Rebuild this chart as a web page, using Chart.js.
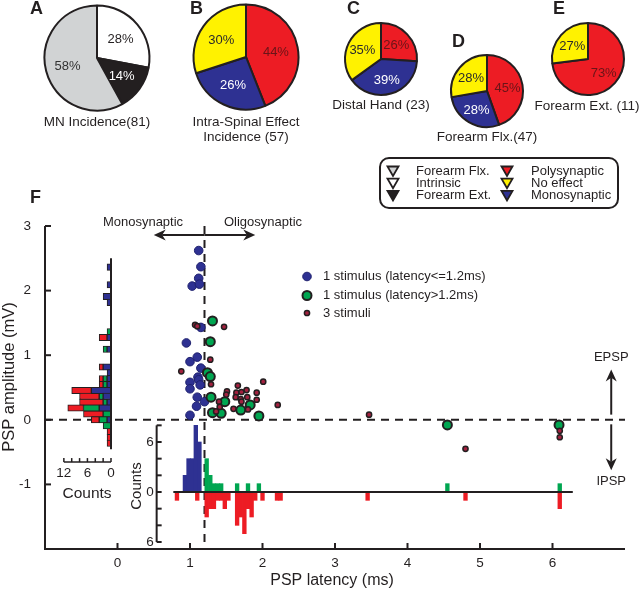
<!DOCTYPE html>
<html>
<head>
<meta charset="utf-8">
<script src="https://cdn.jsdelivr.net/npm/chart.js@4.4.1/dist/chart.umd.min.js"></script>
<style>
  html, body { margin: 0; padding: 0; background: #fff; }
  #wrap { position: relative; width: 640px; height: 593px; overflow: hidden; }
  #wrap canvas { position: absolute; }
</style>
</head>
<body>
<div id="wrap">
  <canvas id="mainChart" width="640" height="593" style="left:0;top:0"></canvas>
  <canvas id="ampHist" width="640" height="593" style="left:0;top:0"></canvas>
  <canvas id="pieA" width="112" height="112" style="left:41px;top:2px"></canvas>
  <canvas id="pieB" width="112" height="112" style="left:190px;top:1px"></canvas>
  <canvas id="pieC" width="80" height="80" style="left:341px;top:19px"></canvas>
  <canvas id="pieD" width="80" height="80" style="left:447px;top:51px"></canvas>
  <canvas id="pieE" width="80" height="80" style="left:548px;top:19px"></canvas>
</div>
<script>
const RED = "#ED1C24";
const BLUE = "#2E3192";
const GREEN = "#00A651";
const YELLOW = "#FFF200";
const GRAY = "#D1D3D4";
const BLACK = "#231F20";
const MAROON = "#A3213F";
const FONT = '"Liberation Sans", Arial, Helvetica, sans-serif';

// ---- pie data (percent) ----
const pieALabels = ["Intrinsic", "Forearm Ext.", "Forearm Flx."];
const pieAValues = [28, 14, 58];
const pieAColors = ["#ffffff", BLACK, GRAY];
const pieATextColors = [BLACK, "#ffffff", "#333333"];

const effectLabels = ["Polysynaptic", "Monosynaptic", "No effect"];
const effectColors = [RED, BLUE, YELLOW];
const effectTextColors = ["#6a1418", "#ffffff", "#2b2b2b"];
const pieBValues = [44, 26, 30];
const pieCValues = [26, 39, 35];
const pieDValues = [45, 28, 28];
const pieEValues = [73, 0, 27];

// ---- panel F scatter: [latency ms, amplitude mV] ----
const oneStimShort = [
  [1.12, 2.62], [1.15, 2.37], [1.12, 2.19], [1.03, 2.07], [1.13, 2.10],
  [1.15, 1.43], [0.95, 1.19], [1.10, 0.97], [1.00, 0.90], [1.15, 0.80],
  [1.11, 0.66], [1.00, 0.58], [1.12, 0.62], [1.14, 0.54], [1.00, 0.48],
  [1.10, 0.35], [1.20, 0.28], [1.09, 0.21], [1.00, 0.07]
];
const oneStimLong = [
  [1.31, 1.53], [1.28, 1.21], [1.24, 0.73], [1.28, 0.67], [1.29, 0.35],
  [1.48, 0.28], [1.31, 0.11], [1.43, 0.10], [1.70, 0.15], [1.83, 0.23],
  [1.95, 0.06], [4.55, -0.08], [6.09, -0.08]
];
const threeStim = [
  [1.07, 1.47], [1.10, 1.45], [1.47, 1.44], [1.28, 0.93], [0.88, 0.75],
  [1.29, 0.55], [1.66, 0.53], [2.01, 0.59], [1.51, 0.44], [1.50, 0.39],
  [1.64, 0.42], [1.78, 0.46], [1.71, 0.43], [1.92, 0.42], [1.63, 0.35],
  [1.70, 0.32], [1.79, 0.35], [1.71, 0.28], [1.92, 0.31], [1.40, 0.28],
  [1.41, 0.20], [1.60, 0.17], [1.80, 0.16], [1.36, 0.13], [2.21, 0.23],
  [3.47, 0.08], [4.80, -0.45], [6.10, -0.17], [6.10, -0.27]
];

// ---- latency histogram (inset), bin centres in ms ----
const monoLatency = [0.93, 0.98, 1.03, 1.08, 1.13];
const monoCounts = [2, 4, 4, 8, 6];
const lateLatency = [1.23, 1.28, 1.33, 1.38, 1.43, 1.65, 1.80, 1.95, 4.55, 6.10];
const lateCounts = [4, 2, 1, 1, 1, 1, 1, 1, 1, 1];
const multiLatency = [0.82, 1.10, 1.23, 1.28, 1.33, 1.38, 1.43, 1.48, 1.53, 1.65, 1.70,
  1.75, 1.80, 1.85, 1.90, 2.00, 2.20, 2.25, 3.45, 4.80, 6.10];
const multiCounts = [1, 1, 3, 2, 2, 1, 1, 2, 1, 4, 3, 5, 2, 3, 1, 1, 1, 1, 1, 1, 2]; // drawn downward

// ---- amplitude histogram (left), bin centres in mV ----
const ampBins = [2.55, 2.25, 2.05, 1.95, 1.45, 1.35, 1.15, 0.85, 0.75, 0.65, 0.55,
  0.45, 0.35, 0.25, 0.15, 0.05, -0.05, -0.15, -0.25, -0.35, -0.45];
const ampBlue = [1, 1, 2, 1, 0, 1, 1, 2, 1, 1, 1, 5, 2, 1, 3, 0, 1, 0, 0, 0, 0];
const ampGreen = [0, 0, 0, 0, 1, 0, 1, 0, 0, 1, 1, 0, 1, 1, 4, 2, 2, 2, 0, 0, 0];
const ampRed = [0, 0, 0, 0, 0, 2, 0, 1, 0, 1, 1, 5, 5, 6, 4, 5, 2, 0, 1, 1, 1];

// ---- ticks ----
const latencyTicks = [0, 1, 2, 3, 4, 5, 6];
const amplitudeTicks = [3, 2, 1, 0, -1];
const insetTicks = [8, 6, 4, 2, 0, -2, -4, -6];
const insetLabels = { 6: "6", 0: "0", "-6": "6" };
const ampCountTicks = [12, 10, 8, 6, 4, 2, 0];
const ampCountLabels = [12, 6, 0];

const toXY = (arr) => arr.map(([x, y]) => ({ x, y }));
const toBars = (xs, ys, sign) => xs.map((x, i) => ({ x, y: sign * ys[i] }));

function font(size, weight) {
  return (weight || "normal") + " " + size + "px " + FONT;
}

function text(ctx, str, x, y, size, align, color, weight) {
  ctx.font = font(size, weight);
  ctx.fillStyle = color || BLACK;
  ctx.textAlign = align || "center";
  ctx.textBaseline = "middle";
  ctx.fillText(str, x, y);
}

function arrow(ctx, x1, y1, x2, y2) {
  const ang = Math.atan2(y2 - y1, x2 - x1);
  const hl = 12, hw = 5.5;
  ctx.beginPath();
  ctx.moveTo(x1, y1);
  ctx.lineTo(x2 - Math.cos(ang) * hl * 0.7, y2 - Math.sin(ang) * hl * 0.7);
  ctx.stroke();
  ctx.beginPath();
  ctx.moveTo(x2, y2);
  ctx.lineTo(x2 - Math.cos(ang) * hl - Math.sin(ang) * hw, y2 - Math.sin(ang) * hl + Math.cos(ang) * hw);
  ctx.lineTo(x2 - Math.cos(ang) * hl * 0.7, y2 - Math.sin(ang) * hl * 0.7);
  ctx.lineTo(x2 - Math.cos(ang) * hl + Math.sin(ang) * hw, y2 - Math.sin(ang) * hl - Math.cos(ang) * hw);
  ctx.closePath();
  ctx.fill();
}

function triangle(ctx, cx, cy, fill) {
  ctx.beginPath();
  ctx.moveTo(cx - 5.5, cy - 4.5);
  ctx.lineTo(cx + 5.5, cy - 4.5);
  ctx.lineTo(cx, cy + 5);
  ctx.closePath();
  ctx.fillStyle = fill;
  ctx.fill();
  ctx.lineWidth = 1.8;
  ctx.strokeStyle = BLACK;
  ctx.stroke();
}

// ---------- pies ----------
const pieLabelPlugin = {
  id: "pieLabels",
  afterDatasetsDraw(chart) {
    const ctx = chart.ctx;
    const ds = chart.data.datasets[0];
    chart.getDatasetMeta(0).data.forEach((arc, i) => {
      const v = ds.data[i];
      if (!v) return;
      const p = arc.getProps(["x", "y", "startAngle", "endAngle", "outerRadius"]);
      const mid = (p.startAngle + p.endAngle) / 2;
      const r = p.outerRadius * 0.58;
      text(ctx, v + "%", p.x + Math.cos(mid) * r, p.y + Math.sin(mid) * r + 1, 13, "center", ds.textColors[i]);
    });
  }
};

function makePie(id, labels, values, colors, textColors, radius) {
  return new Chart(document.getElementById(id), {
    type: "pie",
    data: {
      labels: labels,
      datasets: [{
        data: values,
        backgroundColor: colors,
        borderColor: BLACK,
        borderWidth: 2,
        textColors: textColors
      }]
    },
    options: {
      responsive: false,
      animation: false,
      events: [],
      radius: radius,
      plugins: { legend: { display: false }, tooltip: { enabled: false } }
    },
    plugins: [pieLabelPlugin]
  });
}

makePie("pieA", pieALabels, pieAValues, pieAColors, pieATextColors, 52.5);
makePie("pieB", effectLabels, pieBValues, effectColors, effectTextColors, 52.5);
makePie("pieC", effectLabels, pieCValues, effectColors, effectTextColors, 36);
makePie("pieD", effectLabels, pieDValues, effectColors, effectTextColors, 36);
makePie("pieE", effectLabels, pieEValues, effectColors, effectTextColors, 36);

// ---------- panel F ----------
const panelF = {
  id: "panelF",
  beforeDatasetsDraw(chart) {
    const { ctx, chartArea: a, scales: { x, y } } = chart;
    ctx.save();
    ctx.strokeStyle = BLACK;
    ctx.lineWidth = 2;
    ctx.setLineDash([8, 6]);
    ctx.beginPath();
    ctx.moveTo(a.left, y.getPixelForValue(0));
    ctx.lineTo(a.right, y.getPixelForValue(0));
    ctx.stroke();
    ctx.beginPath();
    ctx.moveTo(x.getPixelForValue(1.2), a.top);
    ctx.lineTo(x.getPixelForValue(1.2), a.bottom);
    ctx.stroke();
    ctx.restore();
  },
  afterDraw(chart) {
    const { ctx, chartArea: a, scales: { x, y, y2 } } = chart;
    ctx.save();
    ctx.strokeStyle = BLACK;
    ctx.fillStyle = BLACK;
    ctx.lineWidth = 2;

    // main axes
    ctx.beginPath();
    ctx.moveTo(a.left, a.top);
    ctx.lineTo(a.left, a.bottom);
    ctx.lineTo(a.right, a.bottom);
    ctx.stroke();
    amplitudeTicks.forEach((v) => {
      const py = y.getPixelForValue(v);
      ctx.beginPath(); ctx.moveTo(a.left, py); ctx.lineTo(a.left + 6, py); ctx.stroke();
      text(ctx, String(v), a.left - 14, py, 13.5, "right");
    });
    latencyTicks.forEach((v) => {
      const px = x.getPixelForValue(v);
      ctx.beginPath(); ctx.moveTo(px, a.bottom); ctx.lineTo(px, a.bottom - 6); ctx.stroke();
      text(ctx, String(v), px, a.bottom + 14, 13.5, "center");
    });
    text(ctx, "PSP latency (ms)", 332, 581, 16, "center");
    ctx.save();
    ctx.translate(9, 377);
    ctx.rotate(-Math.PI / 2);
    text(ctx, "PSP amplitude (mV)", 0, 0, 16.5, "center");
    ctx.restore();

    // inset latency histogram axis
    const ix = x.getPixelForValue(0.54);
    ctx.lineWidth = 2;
    ctx.beginPath();
    ctx.moveTo(ix, y2.getPixelForValue(8));
    ctx.lineTo(ix, y2.getPixelForValue(-6));
    ctx.stroke();
    insetTicks.forEach((v) => {
      const py = y2.getPixelForValue(v);
      ctx.beginPath(); ctx.moveTo(ix, py); ctx.lineTo(ix + 5, py); ctx.stroke();
      if (insetLabels[v] !== undefined) text(ctx, insetLabels[v], ix - 3, py, 13.5, "right");
    });
    ctx.beginPath();
    ctx.moveTo(x.getPixelForValue(0.77), y2.getPixelForValue(0));
    ctx.lineTo(x.getPixelForValue(6.28), y2.getPixelForValue(0));
    ctx.stroke();
    ctx.save();
    ctx.translate(137, 486);
    ctx.rotate(-Math.PI / 2);
    text(ctx, "Counts", 0, 0, 15, "center");
    ctx.restore();

    // mono / oligo arrows
    const ay = y.getPixelForValue(2.86);
    const split = x.getPixelForValue(1.2);
    arrow(ctx, split, ay, x.getPixelForValue(0.5), ay);
    arrow(ctx, split, ay, x.getPixelForValue(1.9), ay);
    text(ctx, "Monosynaptic", 143, 222, 13, "center");
    text(ctx, "Oligosynaptic", 263, 222, 13, "center");

    // EPSP / IPSP
    const ex = x.getPixelForValue(6.81);
    arrow(ctx, ex, y.getPixelForValue(0.08), ex, y.getPixelForValue(0.78));
    arrow(ctx, ex, y.getPixelForValue(-0.07), ex, y.getPixelForValue(-0.78));
    text(ctx, "EPSP", ex, y.getPixelForValue(0.96), 13, "center");
    text(ctx, "IPSP", ex, y.getPixelForValue(-0.96), 13, "center");

    // scatter legend
    const legendRows = [
      ["1 stimulus (latency<=1.2ms)", 0, 276.5],
      ["1 stimulus (latency>1.2ms)", 1, 295.5],
      ["3 stimuli", 2, 313]
    ];
    legendRows.forEach(([label, di, ly]) => {
      const ds = chart.data.datasets[di];
      ctx.beginPath();
      ctx.arc(307, ly, ds.pointRadius, 0, Math.PI * 2);
      ctx.fillStyle = ds.backgroundColor;
      ctx.fill();
      ctx.lineWidth = ds.borderWidth;
      ctx.strokeStyle = ds.borderColor;
      ctx.stroke();
      text(ctx, label, 323, ly, 13, "left");
    });

    // panel letters
    ctx.textBaseline = "alphabetic";
    ctx.font = font(18, "bold");
    ctx.fillStyle = BLACK;
    ctx.textAlign = "left";
    [["A", 30, 14], ["B", 190, 14], ["C", 347, 14], ["D", 452, 47], ["E", 553, 14], ["F", 30, 203]]
      .forEach(([l, lx, ly]) => ctx.fillText(l, lx, ly));

    // pie captions
    text(ctx, "MN Incidence(81)", 97, 122, 13.5);
    text(ctx, "Intra-Spinal Effect", 246, 122, 13.5);
    text(ctx, "Incidence (57)", 246, 137, 13.5);
    text(ctx, "Distal Hand (23)", 381, 105, 13.5);
    text(ctx, "Forearm Flx.(47)", 487, 137, 13.5);
    text(ctx, "Forearm Ext. (11)", 587, 106, 13.5);

    // pie legend box
    ctx.lineWidth = 2;
    ctx.strokeStyle = BLACK;
    ctx.beginPath();
    ctx.roundRect(380, 158, 238, 50, 9);
    ctx.stroke();
    const boxRows = [
      [GRAY, "Forearm Flx.", RED, "Polysynaptic"],
      ["#ffffff", "Intrinsic", YELLOW, "No effect"],
      [BLACK, "Forearm Ext.", BLUE, "Monosynaptic"]
    ];
    boxRows.forEach(([c1, t1, c2, t2], i) => {
      const ry = 171 + i * 12.2;
      triangle(ctx, 393, ry, c1);
      text(ctx, t1, 416, ry, 13, "left");
      triangle(ctx, 507, ry, c2);
      text(ctx, t2, 531, ry, 13, "left");
    });
    ctx.restore();
  }
};

new Chart(document.getElementById("mainChart"), {
  type: "scatter",
  data: {
    datasets: [
      {
        label: "1 stimulus (latency<=1.2ms)",
        data: toXY(oneStimShort),
        backgroundColor: BLUE,
        borderColor: "#1f216e",
        borderWidth: 1,
        pointRadius: 4.3,
        order: 2
      },
      {
        label: "1 stimulus (latency>1.2ms)",
        data: toXY(oneStimLong),
        backgroundColor: GREEN,
        borderColor: BLACK,
        borderWidth: 2,
        pointRadius: 4.5,
        order: 1
      },
      {
        label: "3 stimuli",
        data: toXY(threeStim),
        backgroundColor: MAROON,
        borderColor: BLACK,
        borderWidth: 1.5,
        pointRadius: 2.6,
        order: 0
      },
      {
        type: "bar",
        label: "mono counts",
        data: toBars(monoLatency, monoCounts, 1),
        yAxisID: "y2",
        backgroundColor: BLUE,
        barThickness: 3.7,
        grouped: false,
        order: 5
      },
      {
        type: "bar",
        label: "late counts",
        data: toBars(lateLatency, lateCounts, 1),
        yAxisID: "y2",
        backgroundColor: GREEN,
        barThickness: 3.7,
        grouped: false,
        order: 5
      },
      {
        type: "bar",
        label: "3 stimuli counts",
        data: toBars(multiLatency, multiCounts, -1),
        yAxisID: "y2",
        backgroundColor: RED,
        barThickness: 3.7,
        grouped: false,
        order: 5
      }
    ]
  },
  options: {
    responsive: false,
    animation: false,
    events: [],
    layout: { padding: { left: 45, right: 15, top: 226, bottom: 44 } },
    scales: {
      x: { type: "linear", min: -1, max: 7, offset: false, display: false },
      y: { type: "linear", min: -2, max: 3, display: false },
      y2: { type: "linear", min: -6.84, max: 31.92, display: false }
    },
    plugins: { legend: { display: false }, tooltip: { enabled: false } }
  },
  plugins: [panelF]
});

// ---------- amplitude histogram (left of panel F) ----------
const ampAxis = {
  id: "ampAxis",
  afterDraw(chart) {
    const { ctx, scales: { x, y } } = chart;
    ctx.save();
    ctx.strokeStyle = BLACK;
    ctx.lineWidth = 2;
    const x0 = x.getPixelForValue(0);
    ctx.beginPath();
    ctx.moveTo(x0, y.getPixelForValue(2.7));
    ctx.lineTo(x0, y.getPixelForValue(-0.55));
    ctx.stroke();
    const cy = y.getPixelForValue(-0.77);
    ctx.lineWidth = 1.5;
    ctx.beginPath();
    ctx.moveTo(x.getPixelForValue(12), cy);
    ctx.lineTo(x.getPixelForValue(0), cy);
    ctx.stroke();
    ampCountTicks.forEach((v) => {
      const px = x.getPixelForValue(v);
      ctx.beginPath(); ctx.moveTo(px, cy); ctx.lineTo(px, cy - 4); ctx.stroke();
    });
    ampCountLabels.forEach((v) => text(ctx, String(v), x.getPixelForValue(v), cy + 11, 13.5, "center"));
    text(ctx, "Counts", 87, 494, 15.5, "center");
    ctx.restore();
  }
};

const ampSeries = [
  ["Monosynaptic", ampBlue, BLUE],
  ["1 stimulus late", ampGreen, GREEN],
  ["3 stimuli", ampRed, RED]
];

new Chart(document.getElementById("ampHist"), {
  type: "bar",
  data: {
    datasets: ampSeries.map(([label, counts, color]) => ({
      label: label,
      data: ampBins.map((b, i) => ({ x: counts[i], y: b })).filter((d) => d.x > 0),
      backgroundColor: color,
      borderColor: BLACK,
      borderWidth: 1,
      borderSkipped: false,
      barThickness: 6.4
    }))
  },
  options: {
    indexAxis: "y",
    responsive: false,
    animation: false,
    events: [],
    layout: { padding: { left: 56, right: 529, top: 226, bottom: 44 } },
    scales: {
      x: { type: "linear", min: 0, max: 14, reverse: true, stacked: true, display: false },
      y: { type: "linear", min: -2, max: 3, stacked: true, display: false }
    },
    plugins: { legend: { display: false }, tooltip: { enabled: false } }
  },
  plugins: [ampAxis]
});
</script>
</body>
</html>
